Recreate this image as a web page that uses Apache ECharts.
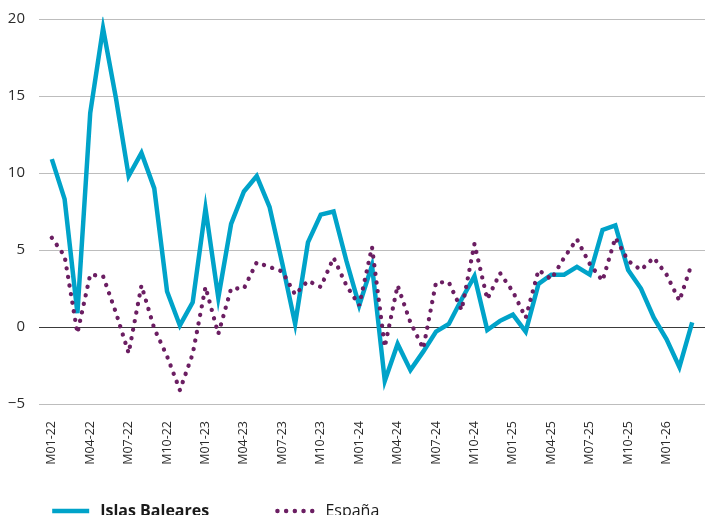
<!DOCTYPE html>
<html>
<head>
<meta charset="utf-8">
<script src="https://cdn.jsdelivr.net/npm/echarts@6/dist/echarts.min.js"></script>
<style>
  html, body { margin: 0; padding: 0; background: #fff; }
  #chart { width: 705px; height: 515px; }
</style>
</head>
<body>
<div id="chart"></div>
<script>
// meses M01-22 ... M03-26
var months = [
    'M01-22', 'M02-22', 'M03-22', 'M04-22', 'M05-22', 'M06-22', 'M07-22', 'M08-22', 'M09-22', 'M10-22', 'M11-22', 'M12-22',
    'M01-23', 'M02-23', 'M03-23', 'M04-23', 'M05-23', 'M06-23', 'M07-23', 'M08-23', 'M09-23', 'M10-23', 'M11-23', 'M12-23',
    'M01-24', 'M02-24', 'M03-24', 'M04-24', 'M05-24', 'M06-24', 'M07-24', 'M08-24', 'M09-24', 'M10-24', 'M11-24', 'M12-24',
    'M01-25', 'M02-25', 'M03-25', 'M04-25', 'M05-25', 'M06-25', 'M07-25', 'M08-25', 'M09-25', 'M10-25', 'M11-25', 'M12-25',
    'M01-26', 'M02-26', 'M03-26'
];
// posiciones de las etiquetas del eje x (cada 3 meses)
var labelIdx = [0, 3, 6, 9, 12, 15, 18, 21, 24, 27, 30, 33, 36, 39, 42, 45, 48];

var baleares = [
    10.9, 8.3, 0.9, 13.9, 19.4, 14.9, 9.8, 11.3, 9.0, 2.3, 0.1, 1.6,
    7.7, 1.9, 6.7, 8.8, 9.8, 7.8, 4.1, 0.2, 5.5, 7.3, 7.5, 4.3,
    1.4, 4.0, -3.5, -1.1, -2.8, -1.6, -0.3, 0.2, 1.8, 3.3, -0.2, 0.4,
    0.8, -0.3, 2.8, 3.4, 3.4, 3.9, 3.4, 6.3, 6.6, 3.7, 2.5, 0.6,
    -0.8, -2.6, 0.3
];
var espana = [
    5.8, 4.6, -0.4, 3.4, 3.3, 0.95, -1.7, 2.7, -0.1, -1.9, -4.1, -1.75,
    2.6, -0.45, 2.5, 2.5, 4.2, 3.9, 3.6, 2.1, 3.0, 2.6, 4.5, 2.7,
    1.4, 5.2, -1.3, 2.7, 0.3, -1.4, 2.9, 2.9, 1.1, 5.4, 1.8, 3.5,
    2.3, 0.6, 3.7, 3.1, 4.5, 5.7, 4.1, 3.0, 5.8, 4.3, 3.7, 4.5,
    3.4, 1.7, 4.2
];

function toPairs(arr) {
    return arr.map(function (v, i) { return [i, v]; });
}

var myChart = echarts.init(document.getElementById('chart'));
myChart.setOption({
    animation: false,
    grid: {
        left: 39,
        right: 0,
        top: 19,
        bottom: 111
    },
    legend: {
        left: 45,
        top: 498,
        itemWidth: 37,
        itemHeight: 14,
        itemGap: 66,
        itemStyle: {opacity: 0},   // solo la línea, sin el círculo
        lineStyle: {width: 4.4},
        textStyle: {
            fontFamily: 'Open Sans',
            fontSize: 16,
            color: '#1a1a1a',
            padding: [0, 0, 0, 6]
        },
        data: [
            {name: 'Islas Baleares', textStyle: {fontWeight: 'bold'}},
            {name: 'España'}
        ]
    },
    xAxis: {
        type: 'value',
        min: -1,
        max: 51,
        axisLine: {show: false},
        axisTick: {show: false},
        splitLine: {show: false},
        axisLabel: {
            customValues: labelIdx,
            rotate: 90,
            margin: 17,
            fontFamily: 'Open Sans',
            fontSize: 12.5,
            color: '#2b2b2b',
            formatter: function (v) { return months[v]; }
        }
    },
    yAxis: {
        type: 'value',
        min: -5,
        max: 20,
        interval: 5,
        axisLine: {show: false},
        axisTick: {show: false},
        axisLabel: {
            margin: 14,
            fontFamily: 'Open Sans',
            fontSize: 15,
            color: '#2b2b2b',
            formatter: function (v) { return v < 0 ? '\u2212' + Math.abs(v) : String(v); }
        },
        splitLine: {
            lineStyle: {
                width: 1,
                // -5, 0, 5, 10, 15, 20
                color: ['#bdbdbd', '#3a3a3a', '#bdbdbd', '#bdbdbd', '#bdbdbd', '#bdbdbd']
            }
        }
    },
    series: [
        {
            name: 'Islas Baleares',
            type: 'line',
            data: toPairs(baleares),
            symbol: 'none',
            lineStyle: {color: '#00a3c9', width: 4.5, join: 'miter'},
            itemStyle: {color: '#00a3c9'}
        },
        {
            name: 'España',
            type: 'line',
            data: toPairs(espana),
            symbol: 'none',
            lineStyle: {color: '#6b1e62', width: 4.3, type: [0.1, 8.6], cap: 'round'},
            itemStyle: {color: '#6b1e62'}
        }
    ]
});
</script>
</body>
</html>
